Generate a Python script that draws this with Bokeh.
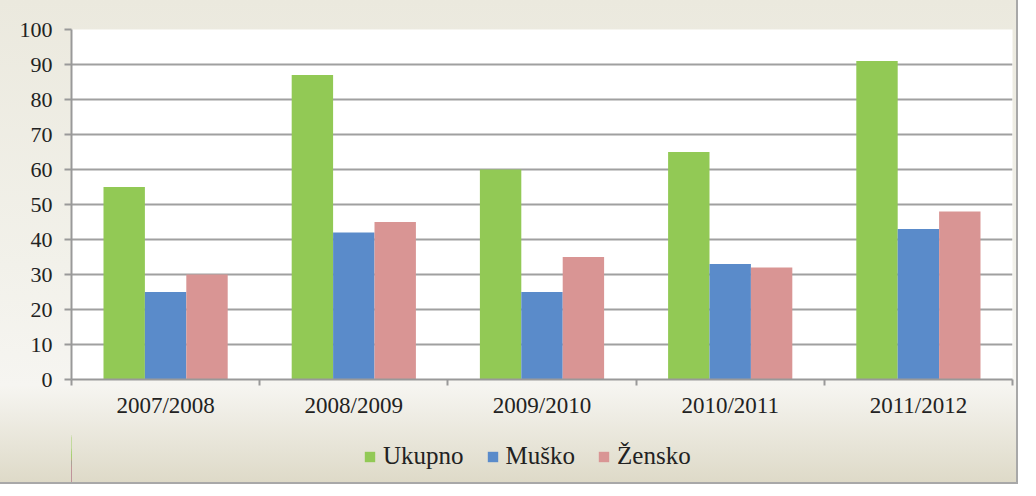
from bokeh.plotting import figure
from bokeh.layouts import column
from bokeh.models import ColumnDataSource, FixedTicker, Legend, LegendItem, Range1d
from bokeh.embed import file_html
from bokeh.resources import INLINE

categories = ["2007/2008", "2008/2009", "2009/2010", "2010/2011", "2011/2012"]
ukupno = [55, 87, 60, 65, 91]
musko = [25, 42, 25, 33, 43]
zensko = [30, 45, 35, 32, 48]
series_names = ["Ukupno", "Muško", "Žensko"]
colors = ["#92c955", "#5a8bca", "#d99594"]

FONT = "Liberation Serif"
W = 1016

p = figure(width=W, height=430, output_backend="svg", toolbar_location=None,
           x_range=Range1d(0, len(categories)), y_range=Range1d(0, 100),
           min_border_left=71, min_border_right=4, min_border_top=29, min_border_bottom=51)
p.border_fill_alpha = 0
p.background_fill_color = "white"
p.outline_line_color = None

x_idx = [i + 0.5 for i in range(len(categories))]
bw = 0.22
sources = []
for vals, off in zip([ukupno, musko, zensko], [-bw, 0, bw]):
    sources.append(ColumnDataSource(dict(x=[x + off for x in x_idx], top=vals)))
for src, col in zip(sources, colors):
    p.vbar(x="x", top="top", width=bw, bottom=0, source=src, fill_color=col, line_color=None)

# axes
p.xaxis.ticker = FixedTicker(ticks=x_idx, minor_ticks=list(range(len(categories) + 1)))
p.xaxis.major_label_overrides = {x: c for x, c in zip(x_idx, categories)}
p.xaxis.major_tick_line_color = None
p.xaxis.minor_tick_line_color = "#999999"
p.xaxis.minor_tick_line_width = 2
p.xaxis.minor_tick_in = 0
p.xaxis.minor_tick_out = 6
p.xaxis.axis_line_color = "#999999"
p.xaxis.axis_line_width = 2
p.xaxis.major_label_text_font = FONT
p.xaxis.major_label_text_font_size = "23px"
p.xaxis.major_label_text_color = "#222222"
p.xaxis.major_label_standoff = 7

p.yaxis.ticker = FixedTicker(ticks=list(range(0, 101, 10)))
p.yaxis.minor_tick_line_color = None
p.yaxis.major_tick_line_color = "#999999"
p.yaxis.major_tick_line_width = 2
p.yaxis.major_tick_in = 0
p.yaxis.major_tick_out = 7
p.yaxis.axis_line_color = "#999999"
p.yaxis.axis_line_width = 2
p.yaxis.major_label_text_font = FONT
p.yaxis.major_label_text_font_size = "22px"
p.yaxis.major_label_text_color = "#222222"
p.yaxis.major_label_standoff = 12

p.xgrid.grid_line_color = None
p.ygrid.ticker = FixedTicker(ticks=list(range(10, 101, 10)))
p.ygrid.grid_line_color = "#a0a0a0"
p.ygrid.grid_line_width = 2

# legend strip below the chart (its renderers lie outside the strip's visible range)
p2 = figure(width=W, height=52, output_backend="svg", toolbar_location=None,
            x_range=Range1d(100, 101), y_range=Range1d(0, 100),
            x_axis_location=None, y_axis_location=None,
            min_border_left=0, min_border_right=0, min_border_top=0, min_border_bottom=0)
p2.border_fill_alpha = 0
p2.background_fill_alpha = 0
p2.outline_line_color = None
p2.grid.grid_line_color = None
legend_renderers = [p2.vbar(x="x", top="top", width=bw, bottom=0, source=src,
                            fill_color=col, line_color=None)
                    for src, col in zip(sources, colors)]

legend = Legend(items=[LegendItem(label=n, renderers=[r]) for n, r in zip(series_names, legend_renderers)],
                orientation="horizontal", location=(292, 12),
                label_text_font=FONT, label_text_font_size="25px", label_text_color="#222222",
                glyph_width=13, glyph_height=13, spacing=22, label_standoff=7,
                background_fill_alpha=0, border_line_color=None, margin=0, padding=4)
p2.add_layout(legend, "center")

layout = column(p, p2, spacing=0,
                styles={"outline": "2px solid #a8a8a8",
                        "background": "linear-gradient(to bottom, #ebe9de 0%, #f2f1ea 55%, #f6f5f1 80%, #dedac8 100%)"})

open("out.html", "w").write(file_html(layout, INLINE))
